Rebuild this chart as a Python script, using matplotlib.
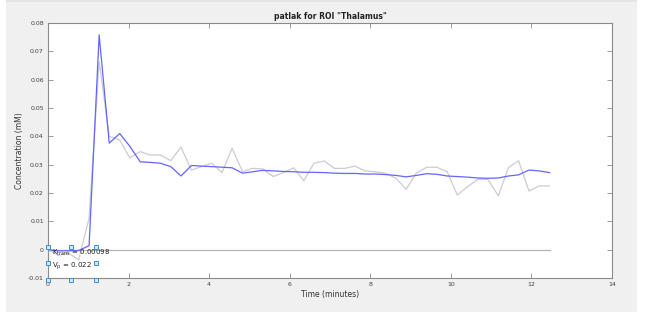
import matplotlib
matplotlib.use("Agg")
import matplotlib.pyplot as plt
from matplotlib.patches import Rectangle

# sample times (minutes)
time_min = [0.00, 0.25, 0.51, 0.76, 1.02, 1.27, 1.52, 1.78, 2.03, 2.29,
            2.54, 2.79, 3.05, 3.30, 3.56, 3.81, 4.06, 4.32, 4.57, 4.83,
            5.08, 5.33, 5.59, 5.84, 6.10, 6.35, 6.60, 6.86, 7.11, 7.37,
            7.62, 7.87, 8.13, 8.38, 8.64, 8.89, 9.14, 9.40, 9.65, 9.91,
            10.16, 10.41, 10.67, 10.92, 11.18, 11.43, 11.68, 11.94, 12.19, 12.45]

# measured concentration (gray)
measured = [0.0000, -0.0020, -0.0012, -0.0036, 0.0112, 0.0664, 0.0400, 0.0387, 0.0324, 0.0346,
            0.0334, 0.0334, 0.0314, 0.0362, 0.0281, 0.0293, 0.0305, 0.0272, 0.0358, 0.0275,
            0.0287, 0.0285, 0.0258, 0.0272, 0.0289, 0.0243, 0.0305, 0.0313, 0.0287, 0.0287,
            0.0295, 0.0278, 0.0275, 0.0270, 0.0252, 0.0213, 0.0270, 0.0291, 0.0291, 0.0275,
            0.0193, 0.0222, 0.0248, 0.0248, 0.0190, 0.0290, 0.0314, 0.0207, 0.0225, 0.0225]

# patlak fit (blue)
fitted = [0.0000, -0.0004, -0.0004, -0.0003, 0.0014, 0.0758, 0.0376, 0.0410, 0.0365, 0.0310,
          0.0308, 0.0305, 0.0293, 0.0260, 0.0297, 0.0295, 0.0293, 0.0291, 0.0289, 0.0270,
          0.0275, 0.0280, 0.0278, 0.0276, 0.0275, 0.0273, 0.0273, 0.0272, 0.0270, 0.0269,
          0.0269, 0.0267, 0.0267, 0.0265, 0.0262, 0.0257, 0.0262, 0.0268, 0.0266, 0.0260,
          0.0258, 0.0256, 0.0253, 0.0252, 0.0253, 0.0260, 0.0264, 0.0281, 0.0278, 0.0272]

x_ticks = [0, 2, 4, 6, 8, 10, 12, 14]
y_ticks = [-0.01, 0, 0.01, 0.02, 0.03, 0.04, 0.05, 0.06, 0.07, 0.08]
y_tick_labels = ["-0.01", "0", "0.01", "0.02", "0.03", "0.04", "0.05", "0.06", "0.07", "0.08"]

ktrans = 0.00098
vp = 0.022

BG = "#f0f0f0"
AXC = "#8a8a8a"
TXT = "#404040"
BLUE = "#6464ff"
GRAY = "#cbcbd5"

fig = plt.figure(figsize=(6.45, 3.12), dpi=100, facecolor="white")
fig.patches.append(Rectangle((6 / 645, 0), 631 / 645, 1, transform=fig.transFigure,
                             facecolor=BG, edgecolor="none", zorder=-10))
fig.patches.append(Rectangle((6 / 645, 1 - 2 / 312), 631 / 645, 2 / 312, transform=fig.transFigure,
                             facecolor="#e4e4e4", edgecolor="none", zorder=-9))

ax = fig.add_axes([48 / 645, 34 / 312, 564 / 645, 255 / 312])
ax.set_facecolor("white")

ax.plot([time_min[0], time_min[-1]], [0, 0], color="#b4b4b4", lw=0.9, zorder=1)
ax.plot(time_min, measured, color=GRAY, lw=0.9, zorder=2)
ax.plot(time_min, fitted, color=BLUE, lw=0.9, zorder=3)

ax.set_xlim(0, 14)
ax.set_ylim(-0.01, 0.08)
ax.set_xticks(x_ticks)
ax.set_xticklabels([str(v) for v in x_ticks])
ax.set_yticks(y_ticks)
ax.set_yticklabels(y_tick_labels)
ax.tick_params(direction="in", length=3.5, width=0.6, colors=AXC, labelcolor=TXT,
               labelsize=4.5, top=True, right=True, pad=3)
for s in ax.spines.values():
    s.set_color(AXC)
    s.set_linewidth(0.8)

ax.set_title('patlak for ROI "Thalamus"', fontsize=5.5, fontweight="bold", color="#222222", pad=3)
ax.set_xlabel("Time (minutes)", fontsize=5.5, color="#333333", labelpad=2)
ax.set_ylabel("Concentration (mM)", fontsize=5.5, color="#333333", labelpad=3)

# annotation text box (selected in the editor, with handles)
ax.text(0.1, -0.0012, r"K$_{\mathregular{trans}}$ = " + f"{ktrans:.5f}", fontsize=5,
        color="#222222", va="center", ha="left", zorder=5)
ax.text(0.1, -0.0058, r"V$_{\mathregular{p}}$ = " + f"{vp:.3f}", fontsize=5,
        color="#222222", va="center", ha="left", zorder=5)
hx = [0.0, 0.58, 1.19]
hy = [0.001, -0.0048, -0.0106]
for yy in hy:
    for xx in hx:
        if yy == hy[1] and xx == hx[1]:
            continue
        ax.plot(xx, yy, marker="s", ms=3, mfc="#d6e6f5", mec="#3a8fd6", mew=0.7,
                clip_on=False, zorder=6)

fig.savefig("out.png", dpi=100, facecolor=fig.get_facecolor())
